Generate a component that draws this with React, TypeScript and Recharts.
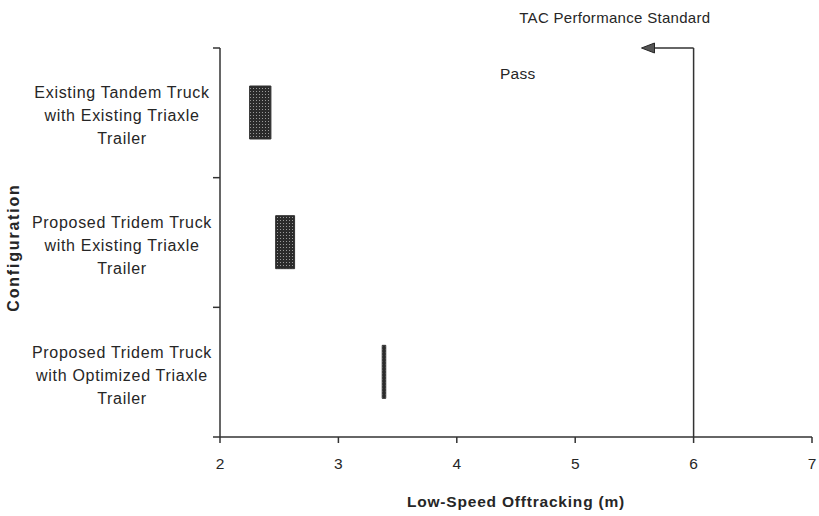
import { BarChart, Bar, XAxis, YAxis, ReferenceLine, ReferenceArea } from "recharts";

// configurations, top to bottom
const configurations = [
  "Existing Tandem Truck|with Existing Triaxle|Trailer",
  "Proposed Tridem Truck|with Existing Triaxle|Trailer",
  "Proposed Tridem Truck|with Optimized Triaxle|Trailer",
];
const lowValues = [2.25, 2.47, 3.37];
const highValues = [2.43, 2.63, 3.4];
const xTicks = [2, 3, 4, 5, 6, 7];
const tacStandard = 6;
const arrowTip = 5.56;
const passSpan = [4.36, 4.67];
const titleSpan = [4.57, 6.1];

const data = configurations.map((name, i) => ({
  name,
  range: [lowValues[i], highValues[i]],
}));

const FONT = "'Liberation Sans', Arial, sans-serif";
const INK = "#262626";

const CategoryTick = ({ x, y, payload, index }: any) => {
  const lines = String(payload.value).split("|");
  const half = payload.offset || 65;
  return (
    <g>
      <text textAnchor="middle" fill={INK} fontSize={16} letterSpacing={0.7} fontFamily={FONT}>
        {lines.map((l, i) => (
          <tspan key={i} x={x - 98} y={y + 3 + (i - 1) * 23} dominantBaseline="central">
            {l}
          </tspan>
        ))}
      </text>
      {index === 0 && <line x1={x - 7} x2={x} y1={y - half} y2={y - half} stroke="#333" strokeWidth={1.5} />}
      <line x1={x - 7} x2={x} y1={y + half} y2={y + half} stroke="#333" strokeWidth={1.5} />
    </g>
  );
};

const YTitle = ({ viewBox }: any) => {
  const cx = viewBox.x + 13;
  const cy = viewBox.y + viewBox.height / 2 + 5;
  return (
    <text
      x={cx}
      y={cy}
      transform={`rotate(-90, ${cx}, ${cy})`}
      textAnchor="middle"
      dominantBaseline="central"
      fontFamily={FONT}
      fontWeight="bold"
      fontSize={16}
      letterSpacing={1.8}
      fill={INK}
    >
      Configuration
    </text>
  );
};

const ArrowShape = ({ x, y, width }: any) => (
  <g>
    <line x1={x + width} x2={x + 12} y1={y} y2={y} stroke="#333" strokeWidth={1.5} />
    <polygon points={`${x},${y} ${x + 13},${y - 5} ${x + 13},${y + 5}`} fill="#555" stroke={INK} />
  </g>
);

const textShape = (label: string, size: number, dy: number, spacing: number) => ({ x, y, width }: any) => (
  <text
    x={x + width / 2}
    y={y + dy}
    textAnchor="middle"
    dominantBaseline="central"
    fontFamily={FONT}
    fontSize={size}
    letterSpacing={spacing}
    fill={INK}
  >
    {label}
  </text>
);

export default function App() {
  return (
    <div style={{ position: "absolute", left: 0, top: 0, background: "#fff" }}>
      <svg width={0} height={0} style={{ position: "absolute" }}>
        <defs>
          <pattern id="stipple" width={3} height={3} patternUnits="userSpaceOnUse">
            <rect width={3} height={3} fill="#2b2b2b" />
            <rect x={1} y={1} width={1} height={1} fill="#9a9a9a" />
          </pattern>
        </defs>
      </svg>
      <BarChart
        width={819}
        height={516}
        data={data}
        layout="vertical"
        barSize={53}
        margin={{ top: 48, right: 7, bottom: 0, left: 0 }}
      >
        <XAxis
          type="number"
          domain={[2, 7]}
          ticks={xTicks}
          allowDataOverflow
          height={79}
          stroke="#333"
          strokeWidth={1.5}
          tickSize={6}
          tickMargin={15}
          tick={{ fill: INK, fontSize: 15.5, fontFamily: FONT }}
          label={{
            value: "Low-Speed Offtracking (m)",
            position: "insideBottom",
            offset: 9,
            style: { fill: INK, fontSize: 15.5, fontWeight: "bold", fontFamily: FONT, letterSpacing: 0.8 },
          }}
        />
        <YAxis
          yAxisId="cat"
          type="category"
          dataKey="name"
          width={220}
          stroke="#333"
          strokeWidth={1.5}
          tickLine={false}
          tickSize={0}
          tickMargin={0}
          tick={<CategoryTick />}
          label={<YTitle />}
        />
        <Bar
          yAxisId="cat"
          dataKey="range"
          fill="url(#stipple)"
          stroke="#333"
          strokeWidth={1}
          isAnimationActive={false}
        />
        <ReferenceLine yAxisId="cat" x={tacStandard} stroke="#333" strokeWidth={1.5} />
        <ReferenceArea
          yAxisId="cat"
          x1={arrowTip}
          x2={tacStandard}
          shape={<ArrowShape />}
          ifOverflow="visible"
        />
        <ReferenceArea
          yAxisId="cat"
          x1={passSpan[0]}
          x2={passSpan[1]}
          shape={textShape("Pass", 15.5, 25, 0.3)}
          ifOverflow="visible"
        />
        <ReferenceArea
          yAxisId="cat"
          x1={titleSpan[0]}
          x2={titleSpan[1]}
          shape={textShape("TAC Performance Standard", 15, -31, 0.3)}
          ifOverflow="visible"
        />
      </BarChart>
    </div>
  );
}
